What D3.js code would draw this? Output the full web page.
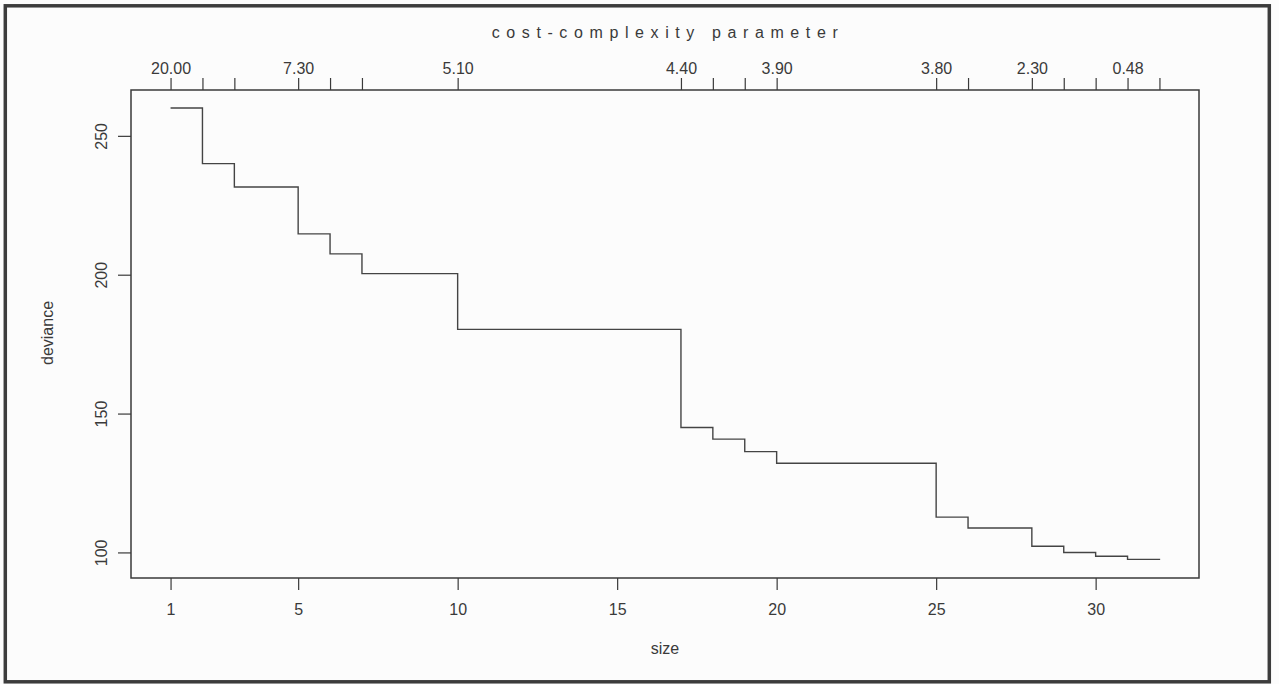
<!DOCTYPE html>
<html>
<head>
<meta charset="utf-8">
<script src="https://cdn.jsdelivr.net/npm/d3@7"></script>
<style>
  body { margin: 0; background: #fcfcfc; }
  svg { display: block; font-family: 'Liberation Sans', Arial, sans-serif; }
</style>
</head>
<body>
<div id="chart"></div>
<script>
// tree size vs deviance (step plot), cost-complexity values on top axis
let sizes = [1, 2, 3, 5, 6, 7, 10, 17, 18, 19, 20, 25, 26, 28, 29, 30, 31, 32]
let deviance = [260, 240, 231.6, 214.7, 207.5, 200.4, 180.3, 145, 140.8, 136.3, 132.1, 112.7, 108.8, 102.2, 100, 98.6, 97.5, 97.3]
let sizeTicks = [1, 5, 10, 15, 20, 25, 30]
let devTicks = [100, 150, 200, 250]
let cpLabelSizes = [1, 5, 10, 17, 20, 25, 28, 31]
let cpLabels = ['20.00', '7.30', '5.10', '4.40', '3.90', '3.80', '2.30', '0.48']

let W = 1279, H = 684
let box = { left: 131, right: 1199, top: 90, bottom: 578 }
let ink = '#3a3a3a'

let svg = d3.select('#chart').append('svg')
    .attr('width', W)
    .attr('height', H)

svg.append('rect')
    .attr('width', W)
    .attr('height', H)
    .attr('fill', '#fcfcfc')

// outer frame of the page
svg.append('rect')
    .attr('x', 5.3)
    .attr('y', 5.8)
    .attr('width', 1264)
    .attr('height', 676)
    .attr('fill', 'none')
    .style('stroke', '#3c3c3c')
    .style('stroke-width', 3.5)

// R style 4% range extension
let xr = d3.extent(sizes), yr = d3.extent(deviance)
let xPad = (xr[1] - xr[0]) * 0.04, yPad = (yr[1] - yr[0]) * 0.04
let x = d3.scaleLinear().domain([xr[0] - xPad, xr[1] + xPad]).range([box.left, box.right])
let y = d3.scaleLinear().domain([yr[0] - yPad, yr[1] + yPad]).range([box.bottom, box.top])

function styleAxis (g) {
    g.select('.domain').remove()
    g.selectAll('line').style('stroke', ink).style('stroke-width', 1.2)
    g.selectAll('text')
        .style('font-size', '16px')
        .style('fill', ink)
        .style('font-family', "'Liberation Sans', Arial, sans-serif")
}

// bottom axis
svg.append('g')
    .attr('transform', 'translate(0,' + box.bottom + ')')
    .call(d3.axisBottom(x).tickValues(sizeTicks).tickSize(12).tickPadding(14).tickFormat(d3.format('d')))
    .call(styleAxis)

// top axis
let cpAxis = d3.axisTop(x)
    .tickValues(sizes)
    .tickSize(12)
    .tickPadding(4)
    .tickFormat(d => {
        let i = cpLabelSizes.indexOf(d)
        return i < 0 ? '' : cpLabels[i]
    })
svg.append('g')
    .attr('transform', 'translate(0,' + box.top + ')')
    .call(cpAxis)
    .call(styleAxis)

// left axis, labels rotated like R
let leftG = svg.append('g')
    .attr('transform', 'translate(' + box.left + ',0)')
    .call(d3.axisLeft(y).tickValues(devTicks).tickSize(13).tickFormat(d3.format('d')))
    .call(styleAxis)
leftG.selectAll('.tick text')
    .attr('x', 0)
    .attr('dy', 0)
    .attr('transform', 'translate(-24,0) rotate(-90)')
    .style('text-anchor', 'middle')

// plot box
svg.append('rect')
    .attr('x', box.left)
    .attr('y', box.top)
    .attr('width', box.right - box.left)
    .attr('height', box.bottom - box.top)
    .attr('fill', 'none')
    .style('stroke', ink)
    .style('stroke-width', 1.5)

// step line
let line = d3.line()
    .x((d, i) => x(sizes[i]))
    .y(d => y(d))
    .curve(d3.curveStepAfter)

svg.append('path')
    .datum(deviance)
    .attr('d', line)
    .attr('fill', 'none')
    .style('stroke', '#444')
    .style('stroke-width', 1.4)

// titles
svg.append('text')
    .attr('transform', 'translate(668, 38)')
    .text('cost-complexity parameter')
    .style('font-size', '16px')
    .style('letter-spacing', '6.6px')
    .style('text-anchor', 'middle')
    .style('fill', ink)

svg.append('text')
    .attr('transform', 'translate(665, 654)')
    .text('size')
    .style('font-size', '16px')
    .style('text-anchor', 'middle')
    .style('fill', ink)

svg.append('text')
    .attr('transform', 'translate(53, 333) rotate(-90)')
    .text('deviance')
    .style('font-size', '16px')
    .style('text-anchor', 'middle')
    .style('fill', ink)
</script>
</body>
</html>
